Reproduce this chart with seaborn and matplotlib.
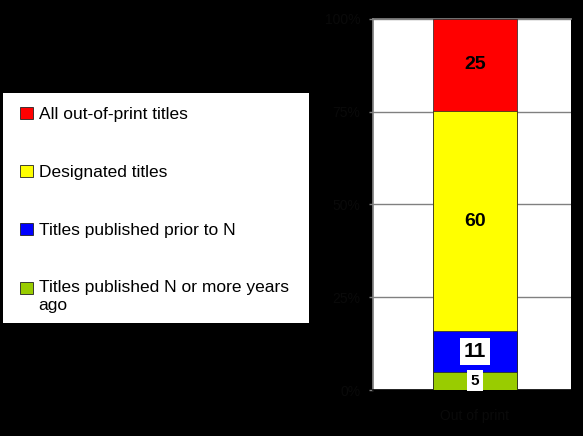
import matplotlib
matplotlib.use("Agg")
import matplotlib.pyplot as plt
import seaborn as sns
import pandas as pd
import numpy as np
from matplotlib.patches import Patch, Rectangle
from matplotlib.ticker import PercentFormatter

# ---- data ----
category = ["Out of print"]
series = [
    "Titles published N or more years\nago",
    "Titles published prior to N",
    "Designated titles",
    "All out-of-print titles",
]
values = [5, 11, 60, 25]
colors = ["#99CC00", "#0000FF", "#FFFF00", "#FF0000"]
yticks = [0, 25, 50, 75, 100]

sns.set_theme(style="white")
plt.rcParams['font.family'] = ['Liberation Sans', 'DejaVu Sans']

W, H = 583, 436
fig = plt.figure(figsize=(W / 100, H / 100), dpi=100, facecolor="black")
ax = fig.add_axes([373 / W, 1 - 390 / H, (571 - 373) / W, (390 - 19) / H])
ax.set_facecolor("white")

total = sum(values)
pct = [v / total * 100 for v in values]
cum = np.cumsum(pct)
df = pd.DataFrame({"category": category * len(values), "series": series,
                   "top": cum, "pct": pct})

for i in reversed(range(len(values))):
    sns.barplot(data=df.iloc[[i]], x="category", y="top", color=colors[i],
                saturation=1, width=0.42, edgecolor="#222222", linewidth=0.5,
                ax=ax, zorder=3)

ax.set_xlim(-0.515, 0.485)
ax.set_ylim(0, 100)
ax.set_yticks(yticks)
ax.yaxis.set_major_formatter(PercentFormatter(decimals=0))
ax.yaxis.grid(True, color="#808080", linewidth=1)
ax.set_axisbelow(True)
ax.set_xlabel("")
ax.set_ylabel("")
dark = "#0a0a0a"
ax.tick_params(axis="y", colors="#808080", labelcolor=dark, length=3,
               width=1, direction="out", labelsize=10, left=True, pad=6)
ax.tick_params(axis="x", labelcolor=dark, length=0, labelsize=10, pad=14)
for side in ["top", "left"]:
    ax.spines[side].set_color("#808080")
ax.spines["right"].set_visible(False)
ax.spines["bottom"].set_color("black")
ax.spines["bottom"].set_linewidth(1.2)

# value labels
styles = [
    dict(fontsize=11, bbox=dict(facecolor="white", edgecolor="none", pad=2.5)),
    dict(fontsize=15, bbox=dict(facecolor="white", edgecolor="none", pad=3)),
    dict(fontsize=14),
    dict(fontsize=14),
]
for i, v in enumerate(values):
    ax.text(0, cum[i] - pct[i] / 2, str(v), ha="center", va="center",
            fontweight="bold", color="black", zorder=5, **styles[i])

# legend with white panel
fig.patches.append(Rectangle((3 / W, 1 - 323 / H), 306 / W, 230 / H,
                             transform=fig.transFigure, facecolor="white",
                             edgecolor="none", zorder=0))
handles = [Patch(facecolor=colors[i], edgecolor="#222222", linewidth=0.6,
                 label=series[i]) for i in reversed(range(len(values)))]
leg = fig.legend(handles=handles, loc="upper left",
                 bbox_to_anchor=(20 / W, 1 - 107 / H), frameon=False,
                 fontsize=12.5, handlelength=0.72, handleheight=0.72,
                 handletextpad=0.35, labelspacing=2.45, borderpad=0,
                 borderaxespad=0, labelcolor="black")
# align the two-line entry's marker with its first line
for h, t in zip(leg.legend_handles, leg.get_texts()):
    if "\n" in t.get_text():
        h.set_y(h.get_y() + 6.3)

fig.savefig("out.png", dpi=100, facecolor="black")
